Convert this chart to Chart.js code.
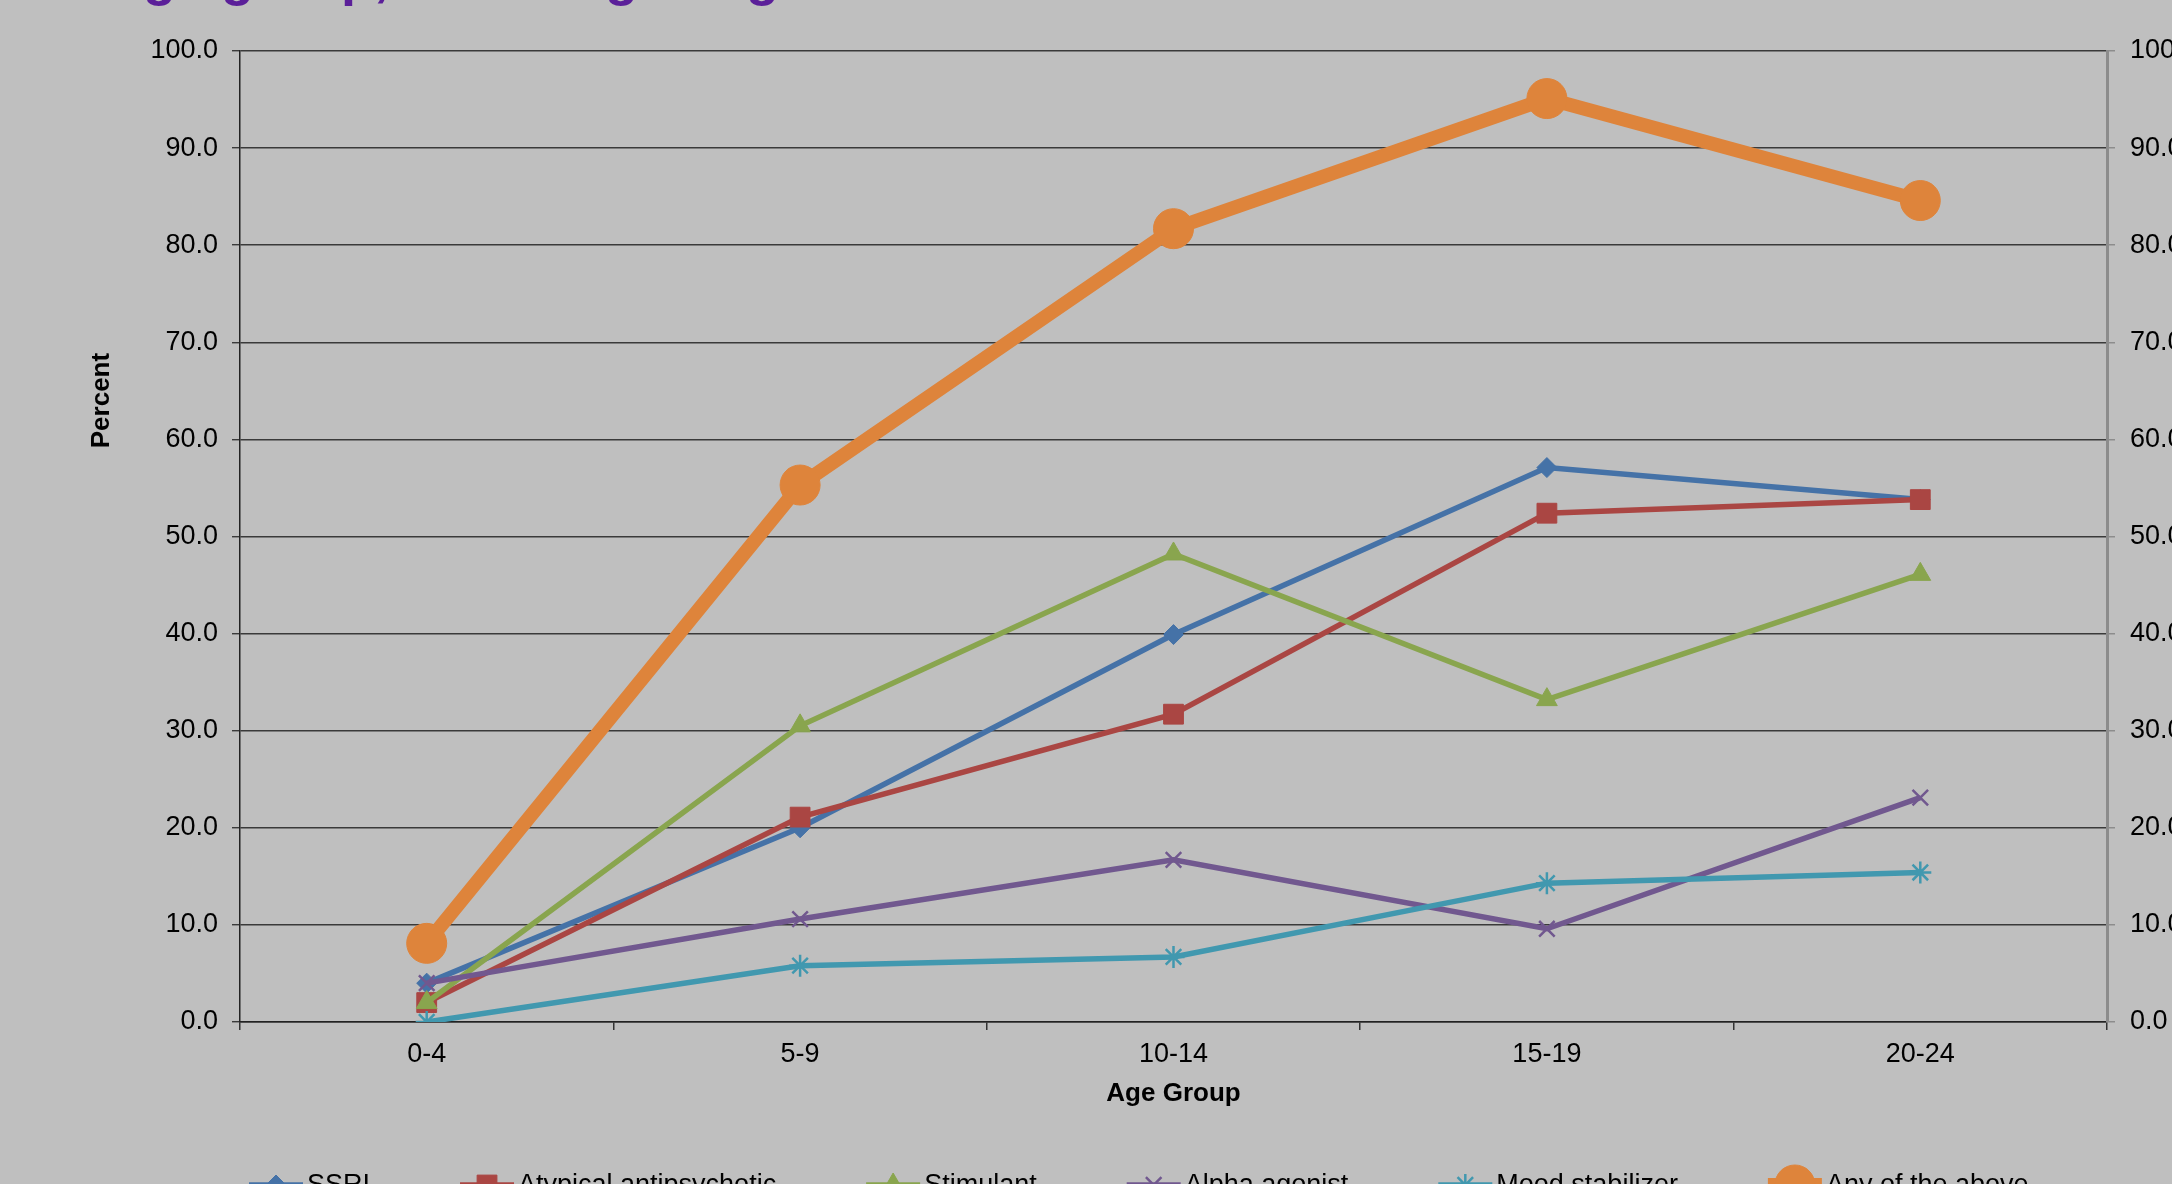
<!DOCTYPE html>
<html>
<head>
<meta charset="utf-8">
<title>Age Group</title>
<script src="https://cdn.jsdelivr.net/npm/chart.js@4.4.0/dist/chart.umd.min.js"></script>
<style>
    html, body { margin: 0; padding: 0; background: #bfbfbf; overflow: hidden; }
    #wrap { width: 2172px; height: 1184px; }
</style>
</head>
<body>
<div id="wrap"><canvas id="myChart" width="2172" height="1184"></canvas></div>
<script>
const FONT = '"Liberation Sans", Arial, sans-serif';

// Categories and series (percent of each age group)
const ageGroups = ['0-4', '5-9', '10-14', '15-19', '20-24'];
const seriesNames = ['SSRI', 'Atypical antipsychotic', 'Stimulant', 'Alpha agonist', 'Mood stabilizer', 'Any of the above'];
const ssri = [4.0, 20.0, 39.9, 57.1, 53.8];
const atypical = [2.0, 21.1, 31.7, 52.4, 53.8];
const stimulant = [2.0, 30.5, 48.2, 33.2, 46.1];
const alphaAgonist = [4.0, 10.6, 16.7, 9.6, 23.1];
const moodStabilizer = [0.0, 5.8, 6.7, 14.3, 15.4];
const anyOfAbove = [8.1, 55.3, 81.7, 95.1, 84.6];

const yMin = 0, yMax = 100, yStep = 10;
const titleText = 'Each Age group, All Using Drug';

const colors = ['#4572A7', '#AA4643', '#89A54E', '#71588F', '#4198AF', '#DE843B'];
const styles = ['rectRot', 'rect', 'triangle', 'crossRot', 'star', 'circle'];
const radii = [10, 14, 12, 11, 11, 20];
const widths = [5.5, 5.5, 5.5, 5.5, 5.5, 14];
const values = [ssri, atypical, stimulant, alphaAgonist, moodStabilizer, anyOfAbove];

const datasets = seriesNames.map((name, i) => ({
    label: name,
    data: values[i],
    borderColor: colors[i],
    backgroundColor: colors[i],
    borderWidth: widths[i],
    pointStyle: styles[i],
    pointRadius: radii[i],
    pointBackgroundColor: colors[i],
    pointBorderColor: colors[i],
    pointBorderWidth: (styles[i] === 'crossRot' || styles[i] === 'star') ? 2.5 : 1,
    tension: 0,
    fill: false,
    order: seriesNames.length - i // later series sit on top
}));

// purple heading across the top edge
const titlePlugin = {
    id: 'topTitle',
    afterDraw(chart) {
        const ctx = chart.ctx;
        ctx.save();
        ctx.font = 'bold 54px ' + FONT;
        ctx.fillStyle = '#5B1F99';
        ctx.textAlign = 'left';
        ctx.textBaseline = 'alphabetic';
        ctx.fillText(titleText, -40, -5);
        ctx.restore();
    }
};

// rotated y axis label, sitting above the middle of the plot
const percentLabel = {
    id: 'percentLabel',
    afterDraw(chart) {
        const { ctx, chartArea } = chart;
        ctx.save();
        ctx.translate(102, chartArea.top + (chartArea.bottom - chartArea.top) * 0.36);
        ctx.rotate(-Math.PI / 2);
        ctx.font = 'bold 26px ' + FONT;
        ctx.fillStyle = '#000';
        ctx.textAlign = 'center';
        ctx.textBaseline = 'middle';
        ctx.fillText('Percent', 0, 0);
        ctx.restore();
    }
};

// legend row: short line with the marker, then the name
const lineLegend = {
    id: 'lineLegend',
    afterDraw(chart) {
        const ctx = chart.ctx;
        const y = 1185;
        let x = 249;
        ctx.save();
        ctx.font = '27px ' + FONT;
        chart.data.datasets.forEach(ds => {
            ctx.strokeStyle = ds.borderColor;
            ctx.lineWidth = ds.borderWidth;
            ctx.beginPath();
            ctx.moveTo(x, y);
            ctx.lineTo(x + 54, y);
            ctx.stroke();
            ctx.fillStyle = ds.pointBackgroundColor;
            ctx.strokeStyle = ds.pointBorderColor;
            ctx.lineWidth = ds.pointBorderWidth;
            Chart.helpers.drawPoint(ctx, {
                pointStyle: ds.pointStyle,
                radius: ds.pointRadius,
                rotation: 0,
                borderWidth: ds.pointBorderWidth
            }, x + 27, y);
            ctx.fillStyle = '#000';
            ctx.textAlign = 'left';
            ctx.textBaseline = 'middle';
            ctx.fillText(ds.label, x + 58, y + 1);
            x += 58 + ctx.measureText(ds.label).width + 90;
        });
        ctx.restore();
    }
};

const tickFont = { family: FONT, size: 27 };

const ctx = document.getElementById('myChart').getContext('2d');
const myChart = new Chart(ctx, {
    type: 'line',
    data: {
        labels: ageGroups,
        datasets: datasets
    },
    options: {
        responsive: false,
        animation: false,
        devicePixelRatio: 1,
        layout: { padding: { top: 51, bottom: 62, left: 0, right: 0 } },
        plugins: {
            legend: { display: false },
            tooltip: { enabled: false },
            title: { display: false }
        },
        scales: {
            x: {
                type: 'category',
                offset: true,
                grid: {
                    offset: true,
                    drawOnChartArea: false,
                    drawTicks: true,
                    tickLength: 8,
                    color: '#333',
                    lineWidth: 1.5
                },
                border: { color: '#222', width: 1.5 },
                ticks: { font: tickFont, color: '#000', padding: 8 },
                title: {
                    display: true,
                    text: 'Age Group',
                    color: '#000',
                    font: { family: FONT, size: 26, weight: 'bold' },
                    padding: { top: 8, bottom: 13 }
                },
                afterFit(scale) { scale.height = 100; }
            },
            y: {
                position: 'left',
                min: yMin,
                max: yMax,
                grid: { color: '#3a3a3a', lineWidth: 1.4, tickLength: 8 },
                border: { color: '#222', width: 1.5 },
                ticks: {
                    stepSize: yStep,
                    font: tickFont,
                    color: '#000',
                    padding: 14,
                    callback: v => v.toFixed(1)
                },
                afterFit(scale) { scale.width = 240; }
            },
            y2: {
                position: 'right',
                min: yMin,
                max: yMax,
                grid: { drawOnChartArea: false, color: '#8c8c8c', lineWidth: 1.5, tickLength: 8 },
                border: { color: '#8c8c8c', width: 3 },
                ticks: {
                    stepSize: yStep,
                    font: tickFont,
                    color: '#000',
                    padding: 15,
                    callback: v => v.toFixed(1)
                },
                afterFit(scale) { scale.width = 65; }
            }
        }
    },
    plugins: [titlePlugin, percentLabel, lineLegend]
});
</script>
</body>
</html>
